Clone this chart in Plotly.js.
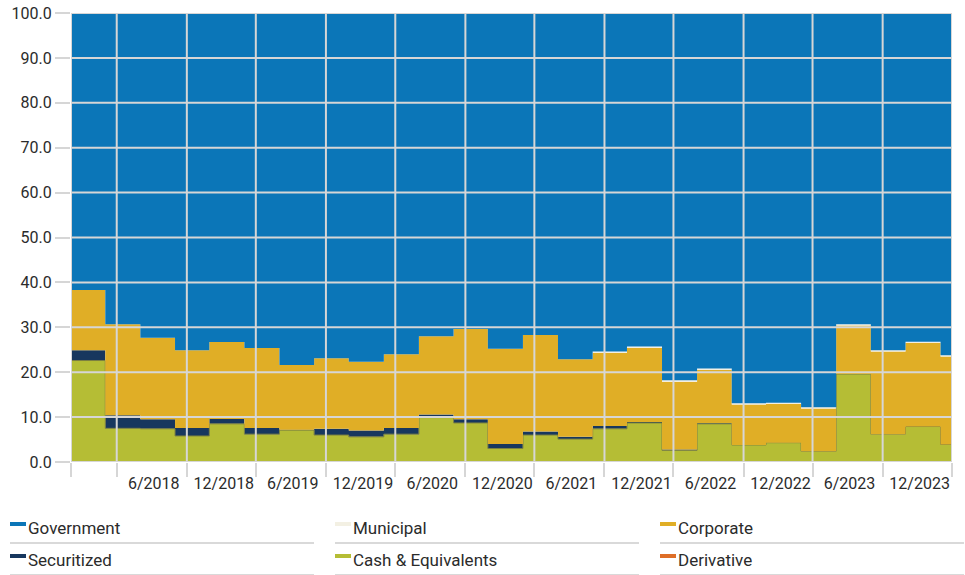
<!DOCTYPE html>
<html>
<head>
<meta charset="utf-8">
<script src="https://cdn.plot.ly/plotly-3.0.1.min.js"></script>
<style>html,body{margin:0;padding:0;background:#fff;}#chart{width:965px;height:575px;}</style>
</head>
<body>
<div id="chart"></div>
<script>
// ---- Data (percent of portfolio, stacked, period start dates) ----
const dates = ['2018-02-28','2018-05-31','2018-08-31','2018-11-30','2019-02-28','2019-05-31','2019-08-31','2019-11-30',
  '2020-02-29','2020-05-31','2020-08-31','2020-11-30','2021-02-28','2021-05-31','2021-08-31','2021-11-30',
  '2022-02-28','2022-05-31','2022-08-31','2022-11-30','2023-02-28','2023-05-31','2023-08-31','2023-11-30',
  '2024-02-29','2024-05-31'];
const rangeStart = '2018-03-02';
const rangeEnd = '2024-06-30';
const government = [61.7,69.3,72.3,75.1,73.3,74.6,78.4,76.9,77.7,76.0,72.0,70.4,74.8,71.7,77.1,75.4,74.3,81.8,79.2,86.9,86.8,87.8,69.3,75.1,73.2,76.2];
const municipal  = [0,0,0,0,0,0,0,0,0,0,0,0,0,0,0,0.3,0.3,0.3,0.3,0.3,0.3,0.3,0.3,0.3,0.3,0.3];
const corporate  = [13.4,20.3,18.2,17.3,17.1,17.8,14.4,15.7,15.3,16.4,17.4,20.1,21.2,21.5,17.3,16.3,16.5,15.1,11.8,9.0,8.6,9.5,10.8,18.4,18.6,19.6];
const securitized= [2.3,2.9,2.1,1.8,1.1,1.4,0.1,1.4,1.4,1.4,0.7,0.8,1.0,0.8,0.5,0.6,0.2,0.2,0.2,0,0,0,0,0,0,0];
const cash       = [22.6,7.5,7.4,5.8,8.5,6.2,7.1,6.0,5.6,6.2,9.9,8.7,3.0,6.0,5.1,7.4,8.7,2.6,8.5,3.8,4.3,2.4,19.6,6.2,7.9,3.9];
const derivative = [0,0,0,0,0,0,0,0,0,0,0,0,0,0,0,0,0,0,0,0,0,0,0,0,0,0];

const gridDates = ['2018-06-30','2018-12-31','2019-06-30','2019-12-31','2020-06-30','2020-12-31','2021-06-30','2021-12-31',
  '2022-06-30','2022-12-31','2023-06-30','2023-12-31'];
const tickLabels = ['6/2018','12/2018','6/2019','12/2019','6/2020','12/2020','6/2021','12/2021','6/2022','12/2022','6/2023','12/2023'];
const yTicks = [0,10,20,30,40,50,60,70,80,90,100];

const legendNames  = ['Government','Municipal','Corporate','Securitized','Cash & Equivalents','Derivative'];
const legendColors = ['#0b76b8','#f3f0e3','#e0ae26','#17375e','#b5bd35','#de6e27'];

// ---- Chart ----
const FONT = "Roboto, 'Liberation Sans', sans-serif";
const TXT = '#2b2b2b';
const GRID = '#d6d6d6';
const W = 965, H = 575, ML = 71, MR = 13, MT = 13, MB = 113;
const PW = W - ML - MR, PH = H - MT - MB;
const px = x => (x - ML) / PW;
const py = y => (H - MB - y) / PH;

const xs = dates.concat([rangeEnd]);
const ext = arr => arr.concat([arr[arr.length - 1]]);
const colorOf = name => legendColors[legendNames.indexOf(name)];

const stackOrder = [
  ['Derivative', derivative, 0, null],
  ['Cash & Equivalents', cash, 1, '#7c8140'],
  ['Securitized', securitized, 0, null],
  ['Corporate', corporate, 0, null],
  ['Municipal', municipal, 0, null],
  ['Government', government, 0, null]
];
const traces = stackOrder.map(([name, vals, lw, lc]) => ({
  type: 'scatter', mode: 'lines', name: name, x: xs, y: ext(vals),
  stackgroup: 'one', line: {shape: 'hv', width: lw, color: lc || colorOf(name)},
  fillcolor: colorOf(name), showlegend: false, hoverinfo: 'x+y+name'
}));

const shapes = [];
yTicks.forEach(v => shapes.push({type:'line', layer:'above', xref:'paper', yref:'y', x0:0, x1:1, y0:v, y1:v, line:{color:GRID, width:2}}));
[rangeStart].concat(gridDates, [rangeEnd]).forEach(d => shapes.push({type:'line', layer:'above', xref:'x', yref:'paper', x0:d, x1:d, y0:0, y1:1, line:{color:GRID, width:2}}));

const annotations = [];
legendNames.forEach((n, i) => {
  const col = i % 3, row = Math.floor(i / 3);
  const x0 = 10 + 325 * col;
  const cy = 528 + 32 * row;
  shapes.push({type:'rect', xref:'paper', yref:'paper', x0:px(x0), x1:px(x0 + 16), y0:py(cy - 2), y1:py(cy - 6), fillcolor:legendColors[i], line:{width:0}});
  shapes.push({type:'line', xref:'paper', yref:'paper', x0:px(x0), x1:px(x0 + 304), y0:py(cy + 15), y1:py(cy + 15), line:{color:'#d9d9d9', width:2}});
  annotations.push({xref:'paper', yref:'paper', x:px(x0 + 16), y:py(cy), xanchor:'left', yanchor:'middle', text:n, showarrow:false,
    font:{family:FONT, size:17, color:TXT}});
});

const layout = {
  width: W, height: H,
  margin: {l: ML, r: MR, t: MT, b: MB, pad: 0},
  paper_bgcolor: '#ffffff', plot_bgcolor: '#ffffff',
  font: {family: FONT, size: 16, color: TXT},
  showlegend: false,
  xaxis: {
    type: 'date', range: [rangeStart, rangeEnd], showgrid: false, zeroline: false, showline: false,
    tickmode: 'array', tickvals: [rangeStart].concat(gridDates, [rangeEnd]), ticktext: [''].concat(tickLabels, ['']),
    ticks: 'outside', ticklen: 14, tickwidth: 2, tickcolor: GRID, ticklabelshift: 37, ticklabelstandoff: -7,
    tickfont: {family: FONT, size: 16, color: TXT}, fixedrange: true
  },
  yaxis: {
    range: [0, 100], tickvals: yTicks, tickformat: '.1f', showgrid: false, zeroline: false, showline: false,
    ticks: 'outside', ticklen: 15, tickwidth: 2, tickcolor: GRID,
    tickfont: {family: FONT, size: 16, color: TXT}, fixedrange: true
  },
  shapes: shapes,
  annotations: annotations
};

Plotly.newPlot('chart', traces, layout, {displayModeBar: false, staticPlot: true});
</script>
</body>
</html>
